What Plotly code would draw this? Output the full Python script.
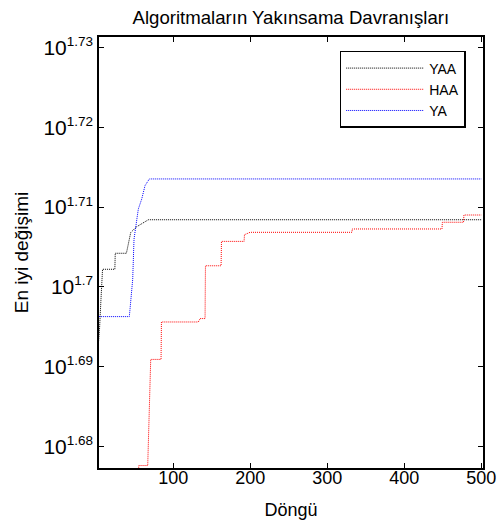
import plotly.graph_objects as go

# Iteration (x) and best value (y)
yaa_x = [1, 4, 6, 8, 24, 24.5, 39, 44.6, 52, 59, 67.5, 500]
yaa_y = [49.09, 49.49, 49.946, 50.373, 50.373, 50.606, 50.606, 50.910, 50.992, 51.039, 51.098, 51.098]

haa_x = [1, 54.5, 55, 66.7, 70.6, 84, 84.5, 132.5, 134.7, 141.2, 141.7, 162, 162.5, 191.9, 192.4, 199.7, 332, 332.5, 449, 449.5, 477, 477.5, 500]
haa_y = [46.77, 46.77, 47.60, 47.60, 49.08, 49.08, 49.613, 49.613, 49.662, 49.662, 50.424, 50.424, 50.780, 50.780, 50.878, 50.913, 50.913, 50.962, 50.962, 51.061, 51.061, 51.168, 51.168]

ya_x = [1, 42.8, 43.7, 45.9, 47.2, 48.9, 54.5, 58.9, 63.2, 68.8, 500]
ya_y = [49.690, 49.690, 49.796, 50.042, 50.229, 50.814, 51.257, 51.404, 51.603, 51.703, 51.703]

y_tick_exps = ["1.68", "1.69", "1.7", "1.71", "1.72", "1.73"]
x_ticks = [100, 200, 300, 400, 500]

FONT = "Liberation Sans, Arial, sans-serif"

fig = go.Figure()
fig.add_trace(go.Scatter(x=yaa_x, y=yaa_y, mode="lines", name="YAA",
                         line=dict(color="black", width=1, dash="1px,1px")))
fig.add_trace(go.Scatter(x=haa_x, y=haa_y, mode="lines", name="HAA",
                         line=dict(color="red", width=1, dash="1px,1px")))
fig.add_trace(go.Scatter(x=ya_x, y=ya_y, mode="lines", name="YA",
                         line=dict(color="blue", width=1, dash="1px,1px")))

fig.update_layout(
    width=497, height=522,
    margin=dict(l=99, r=14.3, t=36.7, b=53.7, autoexpand=False),
    paper_bgcolor="white", plot_bgcolor="white",
    font=dict(family=FONT, color="black"),
    title=dict(text="Algoritmaların Yakınsama Davranışları", x=(99 + 482.7) / 2 / 497,
               xanchor="center", y=1 - 17 / 522, yanchor="middle",
               font=dict(size=18.6, family=FONT, color="black")),
    showlegend=True,
    legend=dict(x=(339.5 - 99) / 383.7, y=(468.3 - 50.7) / 431.6, xanchor="left", yanchor="top",
                bordercolor="black", borderwidth=1.5, bgcolor="white",
                font=dict(size=14, family=FONT), itemwidth=78,
                tracegroupgap=0),
)
fig.update_xaxes(range=[3.4, 502.3], tickvals=x_ticks, ticktext=[str(v) for v in x_ticks],
                 ticks="inside", ticklen=5, tickcolor="black", showline=True, linecolor="black",
                 linewidth=1.5, mirror="ticks", showgrid=False, zeroline=False, automargin=False,
                 ticklabeloverflow="allow", ticklabelstandoff=-7,
                 tickfont=dict(size=18, family=FONT),
                 title=dict(text="Döngü", font=dict(size=18, family=FONT), standoff=16))
fig.update_yaxes(type="log", range=[1.6773, 1.7313],
                 tickvals=[10 ** float(e) for e in y_tick_exps],
                 ticktext=['10<sup><span style="font-size:13.5px">%s</span></sup>' % e for e in y_tick_exps],
                 ticks="inside", ticklen=5, tickcolor="black", showline=True, linecolor="black",
                 linewidth=1.5, mirror="ticks", showgrid=False, zeroline=False, automargin=False,
                 tickfont=dict(size=21, family=FONT),
                 title=dict(text="En iyi değişimi", font=dict(size=19, family=FONT), standoff=10))

fig.write_html("out.html")
